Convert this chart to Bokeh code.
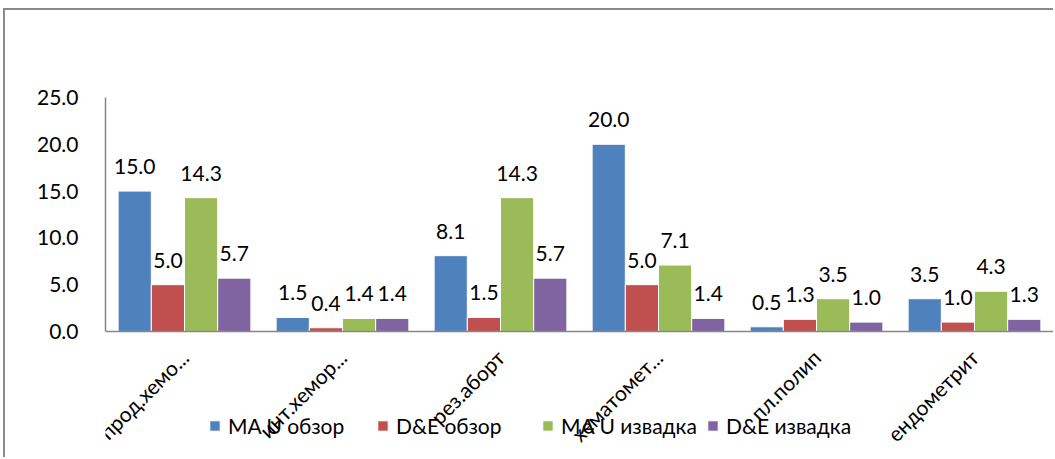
import math
from bokeh.plotting import figure
from bokeh.models import ColumnDataSource, Range1d, FixedTicker, NumeralTickFormatter, Legend, LegendItem, LabelSet
from bokeh.transform import dodge
from bokeh.core.properties import value
from bokeh.embed import file_html
from bokeh.resources import INLINE

categories = ["прод.хемо...", "инт.хемор...", "рез.аборт", "хематомет...", "пл.полип", "ендометрит"]
series_names = ["MA U обзор", "D&E обзор", "MA U извадка", "D&E извадка"]
ma_obzor = [15.0, 1.5, 8.1, 20.0, 0.5, 3.5]
de_obzor = [5.0, 0.4, 1.5, 5.0, 1.3, 1.0]
ma_izvadka = [14.3, 1.4, 14.3, 7.1, 3.5, 4.3]
de_izvadka = [5.7, 1.4, 5.7, 1.4, 1.0, 1.3]
y_ticks = [0, 5, 10, 15, 20, 25]

colors = ["#4F81BD", "#C0504D", "#9BBB59", "#8064A2"]
FONT = "Lato"

src = ColumnDataSource(dict(
    cat=categories,
    s0=ma_obzor, s1=de_obzor, s2=ma_izvadka, s3=de_izvadka,
    l0=[f"{v:.1f}" for v in ma_obzor],
    l1=[f"{v:.1f}" for v in de_obzor],
    l2=[f"{v:.1f}" for v in ma_izvadka],
    l3=[f"{v:.1f}" for v in de_izvadka],
))

# frame spans page y 97..452, value 0 sits at page y 331
p = figure(x_range=categories, y_range=Range1d(-12.93, 25), width=1050, height=449,
           output_backend="svg", toolbar_location=None,
           min_border_left=100, min_border_right=2, min_border_top=87, min_border_bottom=7)
p.styles = {"margin-left": "3px", "margin-top": "8px",
            "border-left": "2px solid #8a8a8a", "border-top": "2px solid #8a8a8a"}

p.xgrid.grid_line_color = None
p.ygrid.grid_line_color = None
p.outline_line_color = None
p.x_range.range_padding = 0

bw = 0.21
offsets = [-1.5 * bw, -0.5 * bw, 0.5 * bw, 1.5 * bw]
renderers = []
for i in range(4):
    r = p.vbar(x=dodge("cat", offsets[i], range=p.x_range), top=f"s{i}", bottom=0, width=bw, source=src,
               fill_color=colors[i], line_color="white", line_width=1)
    renderers.append(r)
    lbl = LabelSet(x=dodge("cat", offsets[i], range=p.x_range), y=f"s{i}", text=f"l{i}", source=src,
                   text_align="center", text_baseline="alphabetic", y_offset=17,
                   text_font=value(FONT), text_font_size="21px", text_color="#000000")
    p.add_layout(lbl)

p.yaxis.ticker = FixedTicker(ticks=y_ticks)
p.yaxis.formatter = NumeralTickFormatter(format="0.0")
p.yaxis.bounds = (0, 25)
p.xaxis.fixed_location = 0
for ax in (p.xaxis, p.yaxis):
    ax.axis_line_color = "#868686"
    ax.axis_line_width = 1.5
    ax.major_tick_line_color = None
    ax.minor_tick_line_color = None
    ax.major_label_text_font = FONT
    ax.major_label_text_font_size = "21px"
    ax.major_label_text_color = "#000000"
p.yaxis.major_label_standoff = 21
p.xaxis.major_label_text_font_size = "21px"
p.xaxis.major_label_orientation = math.pi / 4
p.xaxis.major_label_standoff = 16

# legends, one per item for Excel-like equal spacing
leg_x = [103, 271, 436, 601]
for i in range(4):
    lg = Legend(items=[LegendItem(label=series_names[i], renderers=[renderers[i]])],
                location=(leg_x[i], 14), orientation="horizontal",
                background_fill_alpha=0, border_line_color=None, padding=0, margin=0,
                glyph_width=13, glyph_height=13, label_standoff=7,
                label_text_font=FONT, label_text_font_size="21px", label_text_color="#000000")
    p.add_layout(lg, "center")

open("out.html", "w").write(file_html(p, INLINE))
